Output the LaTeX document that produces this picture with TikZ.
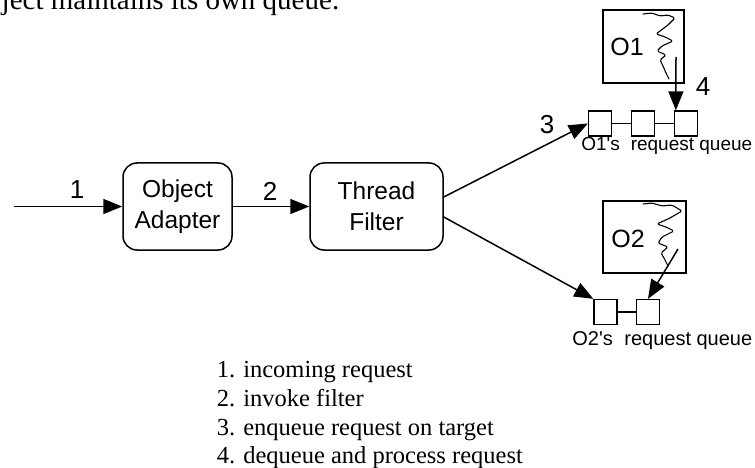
\documentclass[tikz,border=0pt]{standalone}
\usepackage{fontspec}
\setmainfont{Liberation Serif}
\setsansfont{Liberation Sans}
\usetikzlibrary{arrows.meta}
\begin{document}
\begin{tikzpicture}[x=1pt,y=-1pt,line width=1.5pt,
  arr/.style={-{Triangle[length=19pt,width=15pt]}},
  rbox/.style={draw,rounded corners=14pt,inner sep=0pt,align=center,
    font=\sffamily\fontsize{24.5}{31}\selectfont},
  objbox/.style={draw,inner sep=0pt},
  objname/.style={inner sep=0pt,font=\sffamily\fontsize{25}{25}\selectfont},
  cell/.style={draw,minimum width=23pt,minimum height=25pt,inner sep=0pt,line width=1.3pt},
  num/.style={inner sep=0pt,font=\sffamily\fontsize{26}{26}\selectfont},
  qlabel/.style={inner sep=0pt,anchor=base east},
  legend/.style={inner sep=0pt,anchor=base west,font=\fontsize{24.5}{29}\selectfont},
  squiggle/.style={line width=1.1pt,line join=round,line cap=round,rounded corners=1.5pt}]
\useasboundingbox (0,0) rectangle (755,468);
\clip (0,0) rectangle (755,468);

% caption line running above the figure
\node[inner sep=0pt,anchor=base west,font=\fontsize{29}{29}\selectfont] (cap) at (1,10)
  {ject maintains its own queue.};

% request path
\node[rbox,minimum width=109pt,minimum height=87pt] (oa) at (177.5,206.5) {Object\\Adapter};
\node[rbox,minimum width=133pt,minimum height=87pt] (tf) at (376.5,206.5) {Thread\\Filter};
\coordinate (in) at (14,206.5);

% target objects
\node[objbox,minimum width=81pt,minimum height=73pt] (o1) at (643.5,46.5) {};
\node[objname] (o1t) at (627,47) {O1};
\node[objbox,minimum width=83pt,minimum height=72pt] (o2) at (644.5,237) {};
\node[objname] (o2t) at (628,239) {O2};

% request queues
\node[cell] (q11) at (600,123.5) {};
\node[cell] (q12) at (643,123.5) {};
\node[cell] (q13) at (686,123.5) {};
\node[cell] (q21) at (605.5,312) {};
\node[cell] (q22) at (648,312) {};
\draw[line width=1.3pt] (q11.east) -- (q12.west) (q12.east) -- (q13.west);
\draw[line width=1.3pt] (q21.east) -- (q22.west);
\node[qlabel,font=\sffamily\fontsize{19}{19}\selectfont] (ql1) at (753,150)
  {O1\textquotesingle s\hspace{0.3em} request queue};
\node[qlabel,font=\sffamily\fontsize{20}{20}\selectfont] (ql2) at (753,345)
  {O2\textquotesingle s\hspace{0.3em} request queue};

% threads running inside the objects (hand-drawn zigzags)
\draw[squiggle] (643,14) -- (652,13) -- (660,16) -- (668,15) -- (675,18) -- (668,25)
  -- (656,34) -- (665,37) -- (673,41) -- (662,46) -- (657,51) -- (666,55) -- (660,60)
  -- (663,66) -- (666,73) -- (669,79);
\draw[squiggle] (643,204) -- (652,203) -- (662,206) -- (672,205) -- (682,211) -- (670,218)
  -- (657,224) -- (666,227) -- (674,231) -- (662,237) -- (658,243) -- (668,247) -- (661,253)
  -- (664,258) -- (668,266);
\coordinate (o1s) at (676,57);
\coordinate (o2s) at (678,249);

% connectors
\draw[arr] (in) -- (oa.west);
\draw[arr] (oa.east) -- (tf.west);
\draw[arr] ([yshift=9.5pt]tf.east) -- (q11.west);
\draw[arr] ([yshift=-10.5pt]tf.east) -- (q21.north west);
\draw[arr] (o1s) -- ([xshift=2pt]q13.north west);
\draw[arr] (o2s) -- (q22.north);

% step numbers
\node[num] (n1) at (77,190) {1};
\node[num] (n2) at (270,191) {2};
\node[num] (n3) at (547,125) {3};
\node[num] (n4) at (703,87) {4};

% legend
\node[legend] (l1) at (216,377) {1. incoming request};
\node[legend] (l2) at (216,406) {2. invoke filter};
\node[legend] (l3) at (216,435) {3. enqueue request on target};
\node[legend] (l4) at (216,463) {4. dequeue and process request};
\end{tikzpicture}
\end{document}
